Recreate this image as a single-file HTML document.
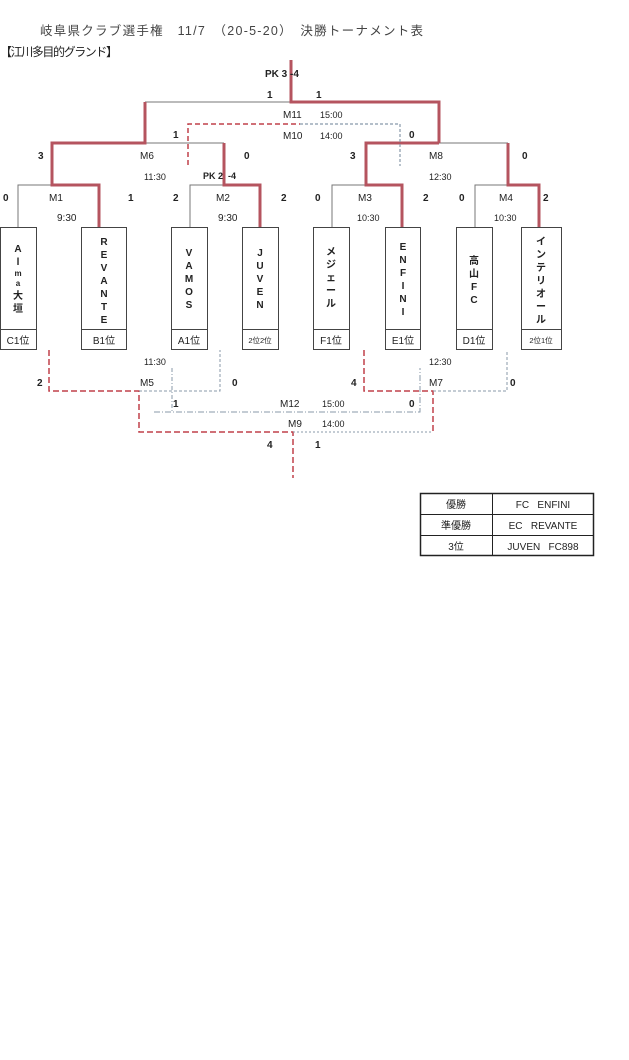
<!DOCTYPE html>
<html><head><meta charset="utf-8"><style>
html,body{margin:0;padding:0;background:#fff;width:629px;height:1060px;overflow:hidden}
svg{display:block}
text{font-family:"Liberation Sans","Noto Sans CJK JP",sans-serif;fill:#222;white-space:pre}
.s{font-size:10px}
.b{font-size:10px;font-weight:bold}
.n{font-size:10px;font-weight:bold;text-anchor:middle}
.c{text-anchor:middle}
</style></head><body>
<svg width="629" height="1060" viewBox="0 0 629 1060">
<text x="40" y="35" style="font-size:12.5px;fill:#444" textLength="383">岐阜県クラブ選手権　11/7　（20-5-20）　決勝トーナメント表</text>
<text x="0" y="56" style="font-size:12px" textLength="118">【江川多目的グランド】</text>

<g fill="none" stroke="#777" stroke-width="1">
<path d="M18 227V185H99"/>
<path d="M190 227V185H224"/>
<path d="M145 143H224"/>
<path d="M332 227V185H366"/>
<path d="M439 143H508"/>
<path d="M475 227V185H508"/>
<path d="M145 102H291"/>
</g>
<g fill="none" stroke="#b5545f" stroke-width="3">
<path d="M291 60V102H439V143"/>
<path d="M145 102V143H52V185H99V227"/>
<path d="M224 143V185H260V227"/>
<path d="M439 143H366V185H402V227"/>
<path d="M508 143V185H539V227"/>
</g>
<g fill="none" stroke-width="1.2">
<path d="M188 165V124H300" stroke="#c0404a" stroke-dasharray="5,3" stroke-width="1.5"/>
<path d="M300 124H400V166" stroke="#8899aa" stroke-dasharray="3,2"/>
</g>
<g fill="none">
<path d="M49 350V391H139V432H293V478" stroke="#c0404a" stroke-dasharray="6,3" stroke-width="1.5"/>
<path d="M139 391H220V350" stroke="#8899aa" stroke-dasharray="3,2"/>
<path d="M172 368V412" stroke="#8899aa" stroke-dasharray="4,2,1,2"/>
<path d="M154 412H420V368" stroke="#8899aa" stroke-dasharray="6,2,1,2"/>
<path d="M293 432H433" stroke="#8899aa" stroke-dasharray="2,2"/>
<path d="M364 350V391H433V432" stroke="#c0404a" stroke-dasharray="6,3" stroke-width="1.5"/>
<path d="M433 391H507V350" stroke="#8899aa" stroke-dasharray="3,2"/>
</g>

<g fill="#fff" stroke="#444" stroke-width="1">
<rect x="0.5" y="227.5" width="36" height="122"/><path d="M0 329.5H37"/>
<rect x="81.5" y="227.5" width="45" height="122"/><path d="M81 329.5H127"/>
<rect x="171.5" y="227.5" width="36" height="122"/><path d="M171 329.5H208"/>
<rect x="242.5" y="227.5" width="36" height="122"/><path d="M242 329.5H279"/>
<rect x="313.5" y="227.5" width="36" height="122"/><path d="M313 329.5H350"/>
<rect x="385.5" y="227.5" width="35" height="122"/><path d="M385 329.5H421"/>
<rect x="456.5" y="227.5" width="36" height="122"/><path d="M456 329.5H493"/>
<rect x="521.5" y="227.5" width="40" height="122"/><path d="M521 329.5H562"/>
</g>
<g class="n">
<text x="18" y="252">A</text><text x="18" y="265">l</text><text x="18" y="276" style="font-size:8px">m</text><text x="18" y="286" style="font-size:8px">a</text><text x="18" y="299">大</text><text x="18" y="312">垣</text>
<text x="104" y="245">R</text><text x="104" y="258">E</text><text x="104" y="271">V</text><text x="104" y="284">A</text><text x="104" y="297">N</text><text x="104" y="310">T</text><text x="104" y="323">E</text>
<text x="189" y="256">V</text><text x="189" y="269">A</text><text x="189" y="282">M</text><text x="189" y="295">O</text><text x="189" y="308">S</text>
<text x="260" y="256">J</text><text x="260" y="269">U</text><text x="260" y="282">V</text><text x="260" y="295">E</text><text x="260" y="308">N</text>
<text x="331" y="255">メ</text><text x="331" y="268">ジ</text><text x="331" y="281">ェ</text><text x="331" y="294">ー</text><text x="331" y="307">ル</text>
<text x="403" y="250">E</text><text x="403" y="263">N</text><text x="403" y="276">F</text><text x="403" y="289">I</text><text x="403" y="302">N</text><text x="403" y="315">I</text>
<text x="474" y="264">高</text><text x="474" y="277">山</text><text x="474" y="290">F</text><text x="474" y="303">C</text>
<text x="541" y="245">イ</text><text x="541" y="258">ン</text><text x="541" y="271">テ</text><text x="541" y="284">リ</text><text x="541" y="297">オ</text><text x="541" y="310">ー</text><text x="541" y="323">ル</text>
</g>
<g class="s c">
<text x="18" y="344">C1位</text><text x="104" y="344">B1位</text><text x="189" y="344">A1位</text>
<text x="260" y="343" style="font-size:7.5px">2位2位</text><text x="331" y="344">F1位</text><text x="403" y="344">E1位</text>
<text x="474" y="344">D1位</text><text x="541" y="343" style="font-size:7.5px">2位1位</text>
</g>

<g class="b">
<text x="265" y="77">PK 3 -4</text>
<text x="267" y="98">1</text><text x="316" y="98">1</text>
<text x="173" y="138">1</text><text x="409" y="138">0</text>
<text x="38" y="159">3</text><text x="244" y="159">0</text><text x="350" y="159">3</text><text x="522" y="159">0</text>
<text x="203" y="179" style="font-size:9px">PK 2  -4</text>
<text x="3" y="201">0</text><text x="128" y="201">1</text><text x="173" y="201">2</text><text x="281" y="201">2</text>
<text x="315" y="201">0</text><text x="423" y="201">2</text><text x="459" y="201">0</text><text x="543" y="201">2</text>
<text x="37" y="386">2</text><text x="232" y="386">0</text><text x="351" y="386">4</text><text x="510" y="386">0</text>
<text x="173" y="407">1</text><text x="409" y="407">0</text>
<text x="267" y="448">4</text><text x="315" y="448">1</text>
</g>
<g class="s">
<text x="283" y="118">M11</text><text x="320" y="118" style="font-size:9px">15:00</text>
<text x="283" y="139">M10</text><text x="320" y="139" style="font-size:9px">14:00</text>
<text x="140" y="159">M6</text><text x="429" y="159">M8</text>
<text x="144" y="180" style="font-size:9px">11:30</text><text x="429" y="180" style="font-size:9px">12:30</text>
<text x="49" y="201">M1</text><text x="216" y="201">M2</text><text x="358" y="201">M3</text><text x="499" y="201">M4</text>
<text x="57" y="221">9:30</text><text x="218" y="221">9:30</text><text x="357" y="221" style="font-size:9px">10:30</text><text x="494" y="221" style="font-size:9px">10:30</text>
<text x="144" y="365" style="font-size:9px">11:30</text><text x="429" y="365" style="font-size:9px">12:30</text>
<text x="140" y="386">M5</text><text x="429" y="386">M7</text>
<text x="280" y="407">M12</text><text x="322" y="407" style="font-size:9px">15:00</text>
<text x="288" y="427">M9</text><text x="322" y="427" style="font-size:9px">14:00</text>
</g>

<g fill="none" stroke="#222">
<rect x="420.5" y="493.5" width="173" height="62" stroke-width="1.5"/>
<path d="M420 514.5H594M420 535.5H594M492.5 493V556"/>
</g>
<g class="s c">
<text x="456" y="508">優勝</text><text x="543" y="508" xml:space="preserve">FC   ENFINI</text>
<text x="456" y="529">準優勝</text><text x="543" y="529" xml:space="preserve">EC   REVANTE</text>
<text x="456" y="550">3位</text><text x="543" y="550" xml:space="preserve">JUVEN   FC898</text>
</g>
</svg>
</body></html>
